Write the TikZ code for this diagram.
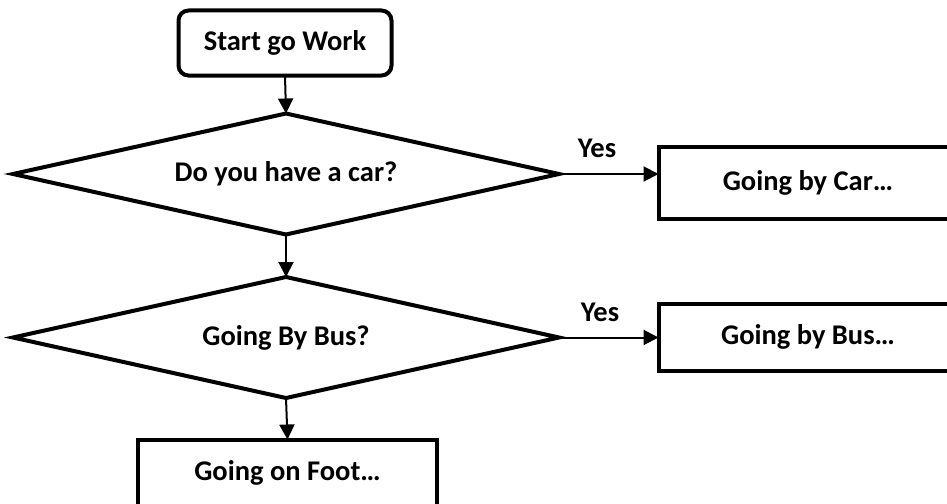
\documentclass[tikz,border=0pt]{standalone}
\usepackage{fontspec}
\setmainfont{Carlito}
\usetikzlibrary{shapes.geometric,arrows.meta}
\begin{document}
\begin{tikzpicture}[x=1pt,y=1pt,
  every node/.style={font=\fontsize{28.5}{34}\selectfont\bfseries, inner sep=0pt, outer sep=0pt},
  startbox/.style={draw, line width=4pt, rounded corners=10pt, minimum width=213pt, minimum height=65pt},
  procbox/.style={draw, line width=4pt, minimum width=299pt},
  decision/.style={draw, diamond, aspect=4.5, line width=4pt, minimum width=546pt, minimum height=121pt},
  flow/.style={line width=2pt, -{Triangle[length=15pt,width=15pt]}}
]
\clip (0,0) rectangle (947,-503);

\node[startbox] (start) at (285,-43) {Start go Work};
\node[decision] (q1) at (286,-174) {Do you have a car?};
\node[procbox, minimum height=72pt] (car) at (808,-182.5) {Going by Car…};
\node[decision] (q2) at (286,-337.5) {Going By Bus?};
\node[procbox, minimum height=67pt] (bus) at (808,-337) {Going by Bus…};
\node[procbox, minimum height=67pt] (foot) at (287.5,-473) {Going on Foot…};

\node (yes1) at (597,-148) {Yes};
\node (yes2) at (600,-312) {Yes};

\draw[flow] (start.south) -- (q1.north);
\draw[flow] (q1.east) -- (q1.east -| car.west);
\draw[flow] (q1.south) -- (q2.north);
\draw[flow] (q2.east) -- (q2.east -| bus.west);
\draw[flow] (q2.south) -- (foot.north);
\end{tikzpicture}
\end{document}
